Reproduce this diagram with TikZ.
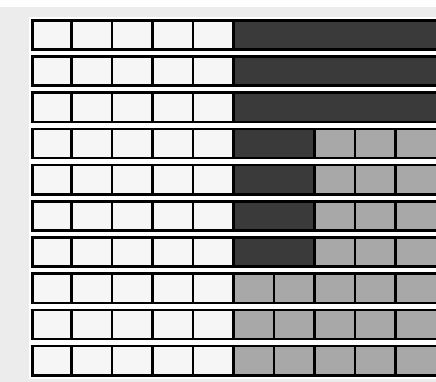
\documentclass[tikz,border=0pt]{standalone}
\usepackage{tikz}
\definecolor{bgcol}{RGB}{236,236,236}
\definecolor{wcol}{RGB}{246,246,246}
\definecolor{dcol}{RGB}{58,58,58}
\definecolor{gcol}{RGB}{168,168,168}
\tikzset{gridline/.style={draw=black,line width=2.6pt}}
\begin{document}
\begin{tikzpicture}[x=1pt,y=-1pt]
\useasboundingbox (0,0) rectangle (436,382);
\clip (0,0) rectangle (436,382);
\fill[bgcol] (0,0) rectangle (436,382);
\fill[white!97!bgcol] (0,0) rectangle (436,7);
\fill[white] (29,17) rectangle (440,379);
\foreach \r in {0,...,9}{
  \pgfmathsetmacro\yt{20.3+36.2*\r}
  \pgfmathsetmacro\yb{\yt+29.2}
  \fill[wcol] (32.3,\yt) rectangle (233.5,\yb);
  \ifnum\r<3
    \fill[dcol] (233.5,\yt) rectangle (440,\yb);
  \else\ifnum\r<7
    \fill[dcol] (233.5,\yt) rectangle (314.5,\yb);
    \fill[gcol] (314.5,\yt) rectangle (440,\yb);
    \foreach \x in {314.5,355,395.5}{\draw[gridline] (\x,\yt) -- (\x,\yb);}
  \else
    \fill[gcol] (233.5,\yt) rectangle (440,\yb);
    \foreach \x in {274,314.5,355,395.5}{\draw[gridline] (\x,\yt) -- (\x,\yb);}
  \fi\fi
  \foreach \x in {71.5,112,152.5,193,233.5}{\draw[gridline] (\x,\yt) -- (\x,\yb);}
  \draw[gridline] (440,\yt) -- (32.3,\yt) -- (32.3,\yb) -- (440,\yb);
}
\end{tikzpicture}
\end{document}
